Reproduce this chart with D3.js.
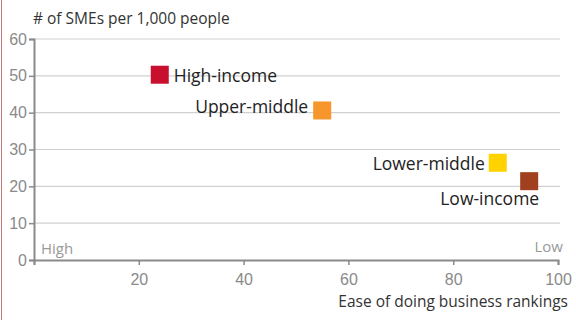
<!DOCTYPE html>
<html>
<head>
<meta charset="utf-8">
<script src="https://cdn.jsdelivr.net/npm/d3@7"></script>
<style>
  html, body { margin: 0; padding: 0; background: #fff; }
  svg { display: block; font-family: "Open Sans", "Noto Sans", sans-serif; }
</style>
</head>
<body>
<div id="chart"></div>
<script>
// groupes de revenu
const groups = ["High-income", "Upper-middle", "Lower-middle", "Low-income"];
const rankings = [24, 55, 88.5, 94.5];
const smes = [50.3, 40.6, 26.4, 21.4];
const colors = ["#c8102e", "#f7962a", "#ffd200", "#a0401e"];
const xTicks = [20, 40, 60, 80, 100];
const yTicks = [0, 10, 20, 30, 40, 50, 60];

const width = 576, height = 320;
const margin = { left: 34, right: 18, top: 39, bottom: 60 };

const svg = d3.select("#chart").append("svg")
    .attr("width", width)
    .attr("height", height);

// bordure gauche
svg.append("line")
    .attr("x1", 1.5).attr("x2", 1.5)
    .attr("y1", 0).attr("y2", height)
    .attr("stroke", "#c9777a").attr("stroke-width", 1);

const x = d3.scaleLinear().domain([0, 100]).range([margin.left, width - margin.right]);
const y = d3.scaleLinear().domain([0, 60]).range([height - margin.bottom, margin.top]);

// grille
svg.append("g")
    .selectAll("line")
    .data(yTicks.filter(d => d > 0))
    .enter()
    .append("line")
    .attr("x1", x(0)).attr("x2", x(100) + 2)
    .attr("y1", d => y(d)).attr("y2", d => y(d))
    .attr("stroke", "#d0d0d0").attr("stroke-width", 1.2);

// axe y
const yAxis = svg.append("g")
    .attr("transform", `translate(${x(0)},0)`)
    .call(d3.axisLeft(y).tickValues(yTicks).tickSize(5).tickPadding(2));
yAxis.select(".domain").attr("stroke", "#8a8a8a").attr("stroke-width", 2);
yAxis.selectAll(".tick line").attr("stroke", "#8a8a8a").attr("stroke-width", 1.5);
yAxis.selectAll(".tick text").attr("fill", "#8a8a8a").style("font-size", "16px");

// axe x
const xAxis = svg.append("g")
    .attr("transform", `translate(0,${y(0)})`)
    .call(d3.axisBottom(x).tickValues([0].concat(xTicks)).tickSize(5).tickPadding(9)
        .tickFormat(d => d === 0 ? "" : d));
xAxis.select(".domain").attr("stroke", "#8a8a8a").attr("stroke-width", 2);
xAxis.selectAll(".tick line").attr("stroke", "#8a8a8a").attr("stroke-width", 1.5);
xAxis.selectAll(".tick text").attr("fill", "#8a8a8a").style("font-size", "16px");

// titres des axes
svg.append("text")
    .attr("x", 33).attr("y", 24)
    .attr("fill", "#333")
    .style("font-size", "15.5px")
    .text("# of SMEs per 1,000 people");

svg.append("text")
    .attr("x", 568).attr("y", 307)
    .attr("text-anchor", "end")
    .attr("fill", "#333")
    .style("font-size", "15.5px")
    .text("Ease of doing business rankings");

svg.append("text")
    .attr("x", 41).attr("y", 254)
    .attr("fill", "#999")
    .style("font-size", "15px")
    .text("High");

svg.append("text")
    .attr("x", 563).attr("y", 252)
    .attr("text-anchor", "end")
    .attr("fill", "#999")
    .style("font-size", "15px")
    .text("Low");

// points
const sz = 18;
const pts = groups.map((g, i) => ({ name: g, x: rankings[i], y: smes[i], color: colors[i] }));

svg.append("g")
    .selectAll("rect")
    .data(pts)
    .enter()
    .append("rect")
    .attr("x", d => x(d.x) - sz / 2)
    .attr("y", d => y(d.y) - sz / 2)
    .attr("width", sz).attr("height", sz)
    .attr("fill", d => d.color);

// étiquettes
const labelPos = [
    { dx: 14, dy: 7, anchor: "start" },
    { dx: -14, dy: 3, anchor: "end" },
    { dx: -13, dy: 7, anchor: "end" },
    { dx: 10, dy: 24, anchor: "end" }
];
svg.append("g")
    .selectAll("text")
    .data(pts)
    .enter()
    .append("text")
    .attr("x", (d, i) => x(d.x) + labelPos[i].dx)
    .attr("y", (d, i) => y(d.y) + labelPos[i].dy)
    .attr("text-anchor", (d, i) => labelPos[i].anchor)
    .attr("fill", "#222")
    .style("font-size", "17.5px")
    .text(d => d.name);
</script>
</body>
</html>
